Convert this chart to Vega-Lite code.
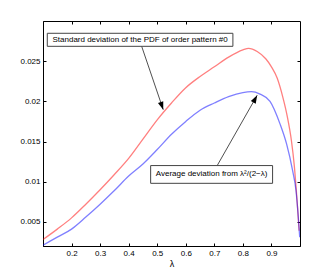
{
  "$schema": "https://vega.github.io/schema/vega-lite/v6.json",
  "autosize": "none",
  "width": 257,
  "height": 225,
  "padding": {"left": 43, "top": 21, "right": 31, "bottom": 30},
  "background": "white",
  "config": {
    "font": "Liberation Sans",
    "view": {"stroke": "black", "strokeWidth": 1},
    "axis": {"domainColor": "black", "tickColor": "black", "labelColor": "black", "titleColor": "black", "labelFontSize": 8, "titleFontSize": 9, "titleFontWeight": "normal", "grid": false, "tickSize": -3, "labelPadding": 6, "labelOverlap": false}
  },
  "resolve": {"axis": {"x": "independent", "y": "independent"}},
  "datasets": {
    "curves": [
      {"lam": 0.1, "v": 0.0028, "s": "std"},
      {"lam": 0.15, "v": 0.0041, "s": "std"},
      {"lam": 0.2, "v": 0.0055, "s": "std"},
      {"lam": 0.25, "v": 0.0072, "s": "std"},
      {"lam": 0.3, "v": 0.0090, "s": "std"},
      {"lam": 0.35, "v": 0.0109, "s": "std"},
      {"lam": 0.4, "v": 0.0129, "s": "std"},
      {"lam": 0.45, "v": 0.0153, "s": "std"},
      {"lam": 0.5, "v": 0.0177, "s": "std"},
      {"lam": 0.55, "v": 0.0198, "s": "std"},
      {"lam": 0.6, "v": 0.0217, "s": "std"},
      {"lam": 0.65, "v": 0.0231, "s": "std"},
      {"lam": 0.7, "v": 0.0243, "s": "std"},
      {"lam": 0.75, "v": 0.0255, "s": "std"},
      {"lam": 0.8, "v": 0.0264, "s": "std"},
      {"lam": 0.82, "v": 0.0266, "s": "std"},
      {"lam": 0.85, "v": 0.0262, "s": "std"},
      {"lam": 0.88, "v": 0.0253, "s": "std"},
      {"lam": 0.9, "v": 0.0243, "s": "std"},
      {"lam": 0.92, "v": 0.0229, "s": "std"},
      {"lam": 0.94, "v": 0.0205, "s": "std"},
      {"lam": 0.955, "v": 0.0182, "s": "std"},
      {"lam": 0.97, "v": 0.0151, "s": "std"},
      {"lam": 0.98, "v": 0.0120, "s": "std"},
      {"lam": 0.99, "v": 0.0075, "s": "std"},
      {"lam": 0.997, "v": 0.0039, "s": "std"},
      {"lam": 0.1, "v": 0.0021, "s": "avg"},
      {"lam": 0.15, "v": 0.0031, "s": "avg"},
      {"lam": 0.2, "v": 0.0041, "s": "avg"},
      {"lam": 0.25, "v": 0.0056, "s": "avg"},
      {"lam": 0.3, "v": 0.0072, "s": "avg"},
      {"lam": 0.35, "v": 0.0089, "s": "avg"},
      {"lam": 0.4, "v": 0.0107, "s": "avg"},
      {"lam": 0.45, "v": 0.0122, "s": "avg"},
      {"lam": 0.5, "v": 0.0140, "s": "avg"},
      {"lam": 0.55, "v": 0.0159, "s": "avg"},
      {"lam": 0.6, "v": 0.0175, "s": "avg"},
      {"lam": 0.65, "v": 0.0189, "s": "avg"},
      {"lam": 0.7, "v": 0.0198, "s": "avg"},
      {"lam": 0.75, "v": 0.0206, "s": "avg"},
      {"lam": 0.8, "v": 0.0211, "s": "avg"},
      {"lam": 0.83, "v": 0.0212, "s": "avg"},
      {"lam": 0.86, "v": 0.0209, "s": "avg"},
      {"lam": 0.895, "v": 0.0200, "s": "avg"},
      {"lam": 0.93, "v": 0.0172, "s": "avg"},
      {"lam": 0.953, "v": 0.0147, "s": "avg"},
      {"lam": 0.974, "v": 0.0114, "s": "avg"},
      {"lam": 0.986, "v": 0.0089, "s": "avg"},
      {"lam": 0.994, "v": 0.0056, "s": "avg"},
      {"lam": 0.999, "v": 0.0031, "s": "avg"}
    ],
    "boxes": [
      {"x1": 0.115, "x2": 0.765, "y1": 0.02847, "y2": 0.02685, "cx": 0.44, "cy": 0.02766, "label": "Standard deviation of the PDF of order pattern #0"},
      {"x1": 0.477, "x2": 0.904, "y1": 0.01201, "y2": 0.0098, "cx": 0.6905, "cy": 0.01091, "label": "Average deviation from λ²/(2−λ)"}
    ],
    "arrows": [
      {"id": "a1", "x1": 0.4455, "y1": 0.02685, "x2": 0.521, "y2": 0.01897},
      {"id": "a2", "x1": 0.710, "y1": 0.01201, "x2": 0.850, "y2": 0.02075}
    ]
  },
  "layer": [
    {
      "data": {"name": "curves"},
      "mark": {"type": "line", "strokeWidth": 1.3, "opacity": 0.5, "clip": true, "interpolate": "monotone"},
      "encoding": {
        "x": {"field": "lam", "type": "quantitative", "scale": {"domain": [0.1, 1], "nice": false, "zero": false}, "axis": {"values": [0.2, 0.3, 0.4, 0.5, 0.6, 0.7, 0.8, 0.9], "format": ".1f", "title": "λ", "titlePadding": 2}},
        "y": {"field": "v", "type": "quantitative", "scale": {"domain": [0.002, 0.03], "nice": false, "zero": false}, "axis": {"values": [0.005, 0.01, 0.015, 0.02, 0.025], "format": ".3~f", "title": null}},
        "color": {"field": "s", "type": "nominal", "scale": {"domain": ["std", "avg"], "range": ["#ff0000", "#0000ff"]}, "legend": null},
        "detail": {"field": "s"}
      }
    },
    {
      "data": {"name": "arrows"},
      "mark": {"type": "rule", "color": "#222", "strokeWidth": 0.8},
      "encoding": {
        "x": {"field": "x1", "type": "quantitative", "axis": {"orient": "top", "values": [0.2, 0.3, 0.4, 0.5, 0.6, 0.7, 0.8, 0.9], "labels": false, "title": null, "domain": false}},
        "y": {"field": "y1", "type": "quantitative", "axis": {"orient": "right", "values": [0.005, 0.01, 0.015, 0.02, 0.025], "labels": false, "title": null, "domain": false}},
        "x2": {"field": "x2"},
        "y2": {"field": "y2"}
      }
    },
    {
      "data": {"name": "arrows"},
      "transform": [{"filter": "datum.id === 'a1'"}],
      "mark": {"type": "point", "shape": "M0,0L-0.35,1L0.35,1Z", "filled": true, "color": "black", "opacity": 1, "size": 256, "angle": 161},
      "encoding": {
        "x": {"field": "x2", "type": "quantitative", "axis": null},
        "y": {"field": "y2", "type": "quantitative", "axis": null}
      }
    },
    {
      "data": {"name": "arrows"},
      "transform": [{"filter": "datum.id === 'a2'"}],
      "mark": {"type": "point", "shape": "M0,0L-0.35,1L0.35,1Z", "filled": true, "color": "black", "opacity": 1, "size": 256, "angle": 29},
      "encoding": {
        "x": {"field": "x2", "type": "quantitative", "axis": null},
        "y": {"field": "y2", "type": "quantitative", "axis": null}
      }
    },
    {
      "data": {"name": "boxes"},
      "mark": {"type": "rect", "fill": "white", "stroke": "#444", "strokeWidth": 1},
      "encoding": {
        "x": {"field": "x1", "type": "quantitative", "axis": null},
        "x2": {"field": "x2"},
        "y": {"field": "y1", "type": "quantitative", "axis": null},
        "y2": {"field": "y2"}
      }
    },
    {
      "data": {"name": "boxes"},
      "mark": {"type": "text", "fontSize": 8, "color": "black", "align": "center", "baseline": "middle"},
      "encoding": {
        "x": {"field": "cx", "type": "quantitative", "axis": null},
        "y": {"field": "cy", "type": "quantitative", "axis": null},
        "text": {"field": "label"}
      }
    }
  ]
}
